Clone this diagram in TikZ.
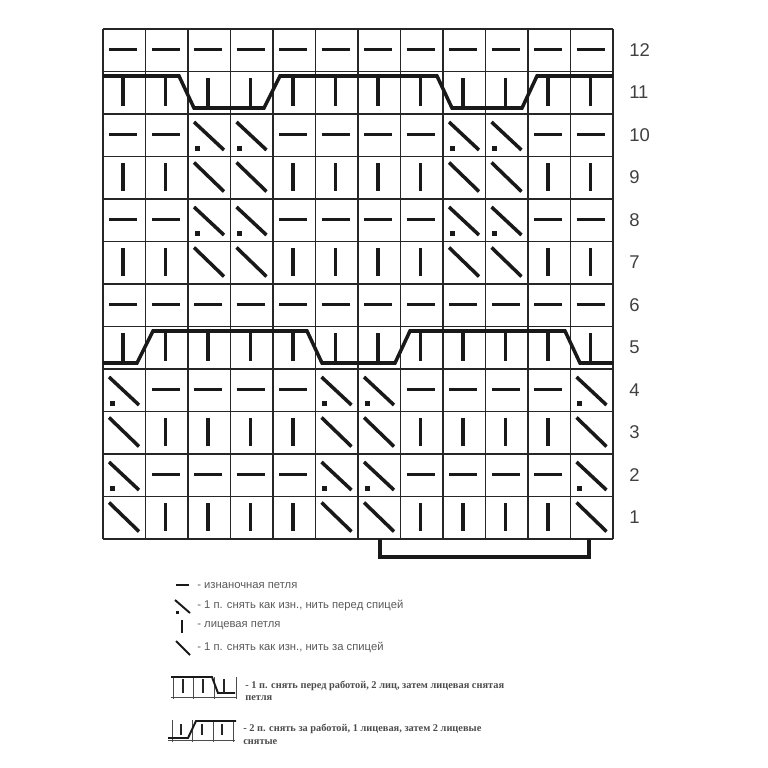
\documentclass[tikz,border=0pt]{standalone}
\usepackage{fontspec}
\setmainfont{Liberation Sans}
\newfontfamily\legendserif{Liberation Serif}
\tikzset{
  gridline/.style={line width=0.95pt,black!85},
  stitch/.style={line width=2pt,black!90},
  cable/.style={line width=2pt,black!90},
  minigrid/.style={line width=0.55pt,black!70},
  minist/.style={line width=1.2pt,black!85},
  rownum/.style={anchor=west,inner sep=0pt,font=\fontsize{10.5}{12}\selectfont,black!75},
  legend/.style={anchor=west,inner sep=0pt,font=\fontsize{6.4}{7}\selectfont,black!65},
  legendb/.style={anchor=west,inner sep=0pt,font=\legendserif\bfseries\fontsize{5.9}{7}\selectfont,black!70},
}
\newcommand{\stK}{\draw[stitch] (20,6.5) -- (20,34);}
\newcommand{\stP}{\draw[stitch] (6,20.5) -- (34,20.5);}
\newcommand{\stB}{\draw[stitch] (6,6) -- (36,35);}
\newcommand{\stF}{\draw[stitch] (6,8) -- (36,36);\fill[black!90] (6.5,31.5) rectangle (11.5,36.5);}
\begin{document}
\begin{tikzpicture}[x=0.02cm,y=-0.02cm]
\useasboundingbox (0,0) rectangle (768,768);

\foreach \r/\rowlist in {
  12/{P,P,P,P,P,P,P,P,P,P,P,P},
  11/{K,K,K,K,K,K,K,K,K,K,K,K},
  10/{P,P,F,F,P,P,P,P,F,F,P,P},
  9/{K,K,B,B,K,K,K,K,B,B,K,K},
  8/{P,P,F,F,P,P,P,P,F,F,P,P},
  7/{K,K,B,B,K,K,K,K,B,B,K,K},
  6/{P,P,P,P,P,P,P,P,P,P,P,P},
  5/{K,K,K,K,K,K,K,K,K,K,K,K},
  4/{F,P,P,P,P,F,F,P,P,P,P,F},
  3/{B,K,K,K,K,B,B,K,K,K,K,B},
  2/{F,P,P,P,P,F,F,P,P,P,P,F},
  1/{B,K,K,K,K,B,B,K,K,K,K,B}}{
  \pgfmathsetmacro{\rowy}{29+42.5*(12-\r)}
  \node[rownum] (num\r) at (629,\rowy+21) {\r};
  \foreach \s [count=\i from 0] in \rowlist {
    \pgfmathsetmacro{\colx}{103+42.5*\i}
    \begin{scope}[shift={(\colx,\rowy)}]
      \csname st\s\endcsname
    \end{scope}
  }
}

\foreach \i in {0,...,12} {
  \draw[gridline] (103+42.5*\i,29) -- (103+42.5*\i,539);
  \draw[gridline] (103,29+42.5*\i) -- (613,29+42.5*\i);
}

\draw[cable] (103,76) -- (179,76) -- (194,108) -- (264,108) -- (280,76) -- (437,76) -- (452,108) -- (522,108) -- (537,76) -- (613,76);
\draw[cable] (103,363) -- (137,363) -- (153,331) -- (307,331) -- (322,363) -- (395,363) -- (410,331) -- (565,331) -- (580,363) -- (613,363);
\draw[cable] (380,539) -- (380,557) -- (589,557) -- (589,539);

\draw[stitch,line width=1.1pt] (176,585) -- (189,585);
\node[legend] (leg1) at (197,585.5) {- изнаночная петля};
\draw[stitch,line width=1.1pt] (175,600) -- (190,613);
\fill[black!90] (175.5,610.5) rectangle (178.5,613.5);
\node[legend] (leg2) at (197,605.5) {- 1 п. снять как изн., нить перед спицей};
\draw[stitch,line width=1.1pt] (182,620) -- (182,633);
\node[legend] (leg3) at (197,626) {- лицевая петля};
\draw[stitch,line width=1.1pt] (176,641) -- (190,655);
\node[legend] (leg4) at (197,647.5) {- 1 п. снять как изн., нить за спицей};

\foreach \x in {173,193,214,236}
  \draw[minigrid] (\x,677) -- (\x,699);
\draw[minigrid] (171,697) -- (236,697);
\draw[cable,line width=1.1pt] (171,677) -- (212,677) -- (218,693) -- (235,693);
\foreach \x in {183,203,224}
  \draw[minist] (\x,679) -- (\x,693);
\node[legendb] (leg5) at (245,685.5) {- 1 п. снять перед работой, 2 лиц, затем лицевая снятая};
\node[legendb] (leg5b) at (245,698.5) {петля};

\foreach \x in {172,192,213,233}
  \draw[minigrid] (\x,720) -- (\x,742);
\draw[minigrid] (168,740) -- (235,740);
\draw[cable,line width=1.1pt] (168,738) -- (188,738) -- (196,721) -- (236,721);
\foreach \x in {181,202,222}
  \draw[minist] (\x,724) -- (\x,735);
\node[legendb] (leg6) at (243,728.5) {- 2 п. снять за работой, 1 лицевая, затем 2 лицевые};
\node[legendb] (leg6b) at (243,742.5) {снятые};

\end{tikzpicture}
\end{document}
